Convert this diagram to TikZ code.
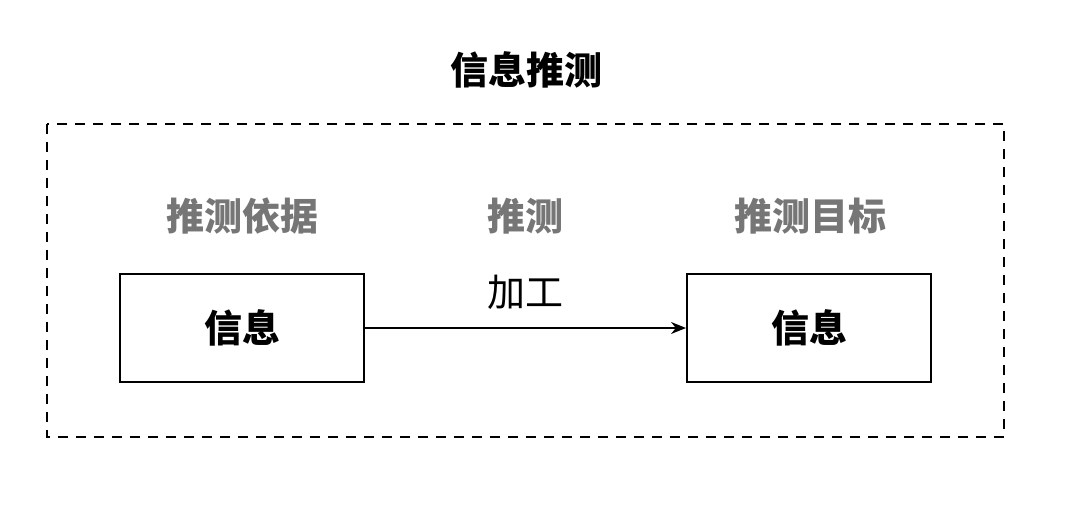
\documentclass[tikz,border=0pt]{standalone}
\usepackage{fontspec}
\setmainfont{Noto Sans CJK SC}
\usetikzlibrary{arrows.meta}
\definecolor{labelgray}{HTML}{767676}
\tikzset{
  infobox/.style={draw=black, line width=2pt, minimum width=244pt, minimum height=108pt, inner sep=0pt, font=\fontsize{38}{42}\selectfont\bfseries},
  graylabel/.style={text=labelgray, font=\fontsize{38}{42}\selectfont\bfseries, inner sep=0pt},
  plainlabel/.style={text=black, font=\fontsize{38}{42}\selectfont, inner sep=0pt},
  titlelabel/.style={text=black, font=\fontsize{38}{42}\selectfont\bfseries, inner sep=0pt},
  frame/.style={draw=black, line width=2pt, dash pattern=on 10pt off 8pt},
  flow/.style={draw=black, line width=1.5pt, -{Stealth[length=15pt,width=12pt]}}
}
\begin{document}
\begin{tikzpicture}[x=1pt,y=-1pt]
\useasboundingbox[fill=white] (0,0) rectangle (1080,504);
\node[titlelabel] (title) at (526,70) {信息推测};
\draw[frame] (47,124) rectangle (1004,437);
\node[graylabel] (basis) at (242,216) {推测依据};
\node[graylabel] (infer) at (525,216) {推测};
\node[graylabel] (target) at (810,216) {推测目标};
\node[infobox] (src) at (242,328) {信息};
\node[infobox] (dst) at (809,328) {信息};
\draw[flow] (src) -- (dst) node[plainlabel, midway, yshift=36pt] (proc) {加工};
\end{tikzpicture}
\end{document}
